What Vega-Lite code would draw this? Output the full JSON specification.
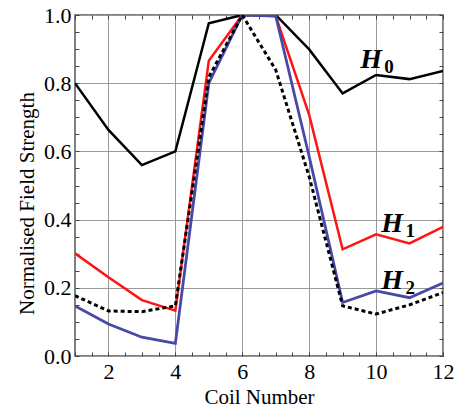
{
  "$schema": "https://vega.github.io/schema/vega-lite/v6.json",
  "width": 368,
  "height": 341,
  "autosize": {"type": "none"},
  "padding": {"left": 75, "top": 15, "right": 11, "bottom": 58},
  "background": "white",
  "config": {
    "font": "Liberation Serif",
    "view": {"stroke": "#555555", "strokeWidth": 1.5},
    "axis": {"labelFont": "Liberation Serif", "titleFont": "Liberation Serif", "labelColor": "black", "titleColor": "black", "titleFontWeight": "normal", "domain": false, "tickColor": "#444444", "gridColor": "#999999", "gridWidth": 1}
  },
  "datasets": {
    "series": [
      {"coil": 1, "v": 0.80, "s": "H0"}, {"coil": 2, "v": 0.663, "s": "H0"}, {"coil": 3, "v": 0.56, "s": "H0"}, {"coil": 4, "v": 0.60, "s": "H0"}, {"coil": 5, "v": 0.976, "s": "H0"}, {"coil": 6, "v": 1.0, "s": "H0"}, {"coil": 7, "v": 1.0, "s": "H0"}, {"coil": 8, "v": 0.899, "s": "H0"}, {"coil": 9, "v": 0.770, "s": "H0"}, {"coil": 10, "v": 0.824, "s": "H0"}, {"coil": 11, "v": 0.812, "s": "H0"}, {"coil": 12, "v": 0.836, "s": "H0"},
      {"coil": 1, "v": 0.301, "s": "H1"}, {"coil": 2, "v": 0.231, "s": "H1"}, {"coil": 3, "v": 0.164, "s": "H1"}, {"coil": 4, "v": 0.133, "s": "H1"}, {"coil": 5, "v": 0.866, "s": "H1"}, {"coil": 6, "v": 1.0, "s": "H1"}, {"coil": 7, "v": 0.997, "s": "H1"}, {"coil": 8, "v": 0.707, "s": "H1"}, {"coil": 9, "v": 0.313, "s": "H1"}, {"coil": 10, "v": 0.357, "s": "H1"}, {"coil": 11, "v": 0.330, "s": "H1"}, {"coil": 12, "v": 0.379, "s": "H1"},
      {"coil": 1, "v": 0.147, "s": "H2"}, {"coil": 2, "v": 0.094, "s": "H2"}, {"coil": 3, "v": 0.055, "s": "H2"}, {"coil": 4, "v": 0.037, "s": "H2"}, {"coil": 5, "v": 0.80, "s": "H2"}, {"coil": 6, "v": 1.0, "s": "H2"}, {"coil": 7, "v": 0.997, "s": "H2"}, {"coil": 8, "v": 0.585, "s": "H2"}, {"coil": 9, "v": 0.157, "s": "H2"}, {"coil": 10, "v": 0.191, "s": "H2"}, {"coil": 11, "v": 0.171, "s": "H2"}, {"coil": 12, "v": 0.214, "s": "H2"},
      {"coil": 1, "v": 0.177, "s": "D"}, {"coil": 2, "v": 0.132, "s": "D"}, {"coil": 3, "v": 0.130, "s": "D"}, {"coil": 4, "v": 0.147, "s": "D"}, {"coil": 5, "v": 0.818, "s": "D"}, {"coil": 6, "v": 1.0, "s": "D"}, {"coil": 7, "v": 0.839, "s": "D"}, {"coil": 8, "v": 0.526, "s": "D"}, {"coil": 9, "v": 0.147, "s": "D"}, {"coil": 10, "v": 0.123, "s": "D"}, {"coil": 11, "v": 0.150, "s": "D"}, {"coil": 12, "v": 0.186, "s": "D"}
    ],
    "labels": [
      {"coil": 9.85, "v": 0.868, "n": "0"},
      {"coil": 10.48, "v": 0.387, "n": "1"},
      {"coil": 10.48, "v": 0.22, "n": "2"}
    ]
  },
  "resolve": {"axis": {"x": "independent", "y": "independent"}},
  "layer": [
    {
      "data": {"name": "series"},
      "transform": [{"filter": "datum.s == 'H0'"}],
      "mark": {"type": "line", "color": "black", "strokeWidth": 2.5, "clip": true},
      "encoding": {
        "x": {"field": "coil", "type": "quantitative", "scale": {"domain": [1, 12], "nice": false, "zero": false},
          "axis": {"orient": "bottom", "title": "Coil Number", "titleFont": "Liberation Serif", "labelFont": "Liberation Serif", "titleFontSize": 21, "labelFontSize": 22, "titlePadding": 4,
            "values": [1, 1.5, 2, 2.5, 3, 3.5, 4, 4.5, 5, 5.5, 6, 6.5, 7, 7.5, 8, 8.5, 9, 9.5, 10, 10.5, 11, 11.5, 12],
            "labelExpr": "datum.value % 2 == 0 ? format(datum.value, 'd') : ''",
            "labelFlush": false, "labelOverlap": false, "tickSize": -4, "labelPadding": 9,
            "gridOpacity": {"condition": {"test": "datum.value % 2 == 0", "value": 1}, "value": 0}}},
        "y": {"field": "v", "type": "quantitative", "scale": {"domain": [0, 1], "nice": false},
          "axis": {"orient": "left", "title": "Normalised Field Strength", "titleFont": "Liberation Serif", "labelFont": "Liberation Serif", "titleFontSize": 21, "labelFontSize": 22, "titlePadding": 6, "titleY": 188,
            "values": [0, 0.05, 0.1, 0.15, 0.2, 0.25, 0.3, 0.35, 0.4, 0.45, 0.5, 0.55, 0.6, 0.65, 0.7, 0.75, 0.8, 0.85, 0.9, 0.95, 1.0],
            "labelExpr": "abs(round(datum.value * 20)) % 4 == 0 ? format(datum.value, '.1f') : ''",
            "labelFlush": false, "labelOverlap": false, "tickSize": -4, "labelPadding": 8,
            "gridOpacity": {"condition": {"test": "abs(round(datum.value * 20)) % 4 == 0", "value": 1}, "value": 0}}}
      }
    },
    {
      "data": {"name": "series"},
      "transform": [{"filter": "datum.s == 'H1'"}],
      "mark": {"type": "line", "color": "#ff1414", "strokeWidth": 2.5, "clip": true},
      "encoding": {
        "x": {"field": "coil", "type": "quantitative", "axis": null},
        "y": {"field": "v", "type": "quantitative", "axis": null}
      }
    },
    {
      "data": {"name": "series"},
      "transform": [{"filter": "datum.s == 'H2'"}],
      "mark": {"type": "line", "color": "#4848a8", "strokeWidth": 2.8, "clip": true},
      "encoding": {
        "x": {"field": "coil", "type": "quantitative", "axis": null},
        "y": {"field": "v", "type": "quantitative", "axis": null}
      }
    },
    {
      "data": {"name": "series"},
      "transform": [{"filter": "datum.s == 'D'"}],
      "mark": {"type": "line", "color": "black", "strokeWidth": 3, "strokeDash": [4, 3], "clip": true},
      "encoding": {
        "x": {"field": "coil", "type": "quantitative", "axis": null},
        "y": {"field": "v", "type": "quantitative", "axis": null}
      }
    },
    {
      "data": {"name": "labels"},
      "mark": {"type": "text", "text": "H", "font": "Liberation Serif", "fontSize": 28, "fontWeight": "bold", "fontStyle": "italic", "align": "center", "baseline": "middle", "color": "black"},
      "encoding": {
        "x": {"field": "coil", "type": "quantitative",
          "axis": {"orient": "top", "title": null, "labels": false, "grid": false, "domain": false, "tickSize": -4,
            "values": [1, 1.5, 2, 2.5, 3, 3.5, 4, 4.5, 5, 5.5, 6, 6.5, 7, 7.5, 8, 8.5, 9, 9.5, 10, 10.5, 11, 11.5, 12]}},
        "y": {"field": "v", "type": "quantitative",
          "axis": {"orient": "right", "title": null, "labels": false, "grid": false, "domain": false, "tickSize": -4,
            "values": [0, 0.05, 0.1, 0.15, 0.2, 0.25, 0.3, 0.35, 0.4, 0.45, 0.5, 0.55, 0.6, 0.65, 0.7, 0.75, 0.8, 0.85, 0.9, 0.95, 1.0]}}
      }
    },
    {
      "data": {"name": "labels"},
      "mark": {"type": "text", "font": "Liberation Serif", "fontSize": 19, "fontWeight": "bold", "align": "center", "baseline": "middle", "color": "black", "dx": 18, "dy": 7},
      "encoding": {
        "x": {"field": "coil", "type": "quantitative", "axis": null},
        "y": {"field": "v", "type": "quantitative", "axis": null},
        "text": {"field": "n"}
      }
    }
  ]
}
